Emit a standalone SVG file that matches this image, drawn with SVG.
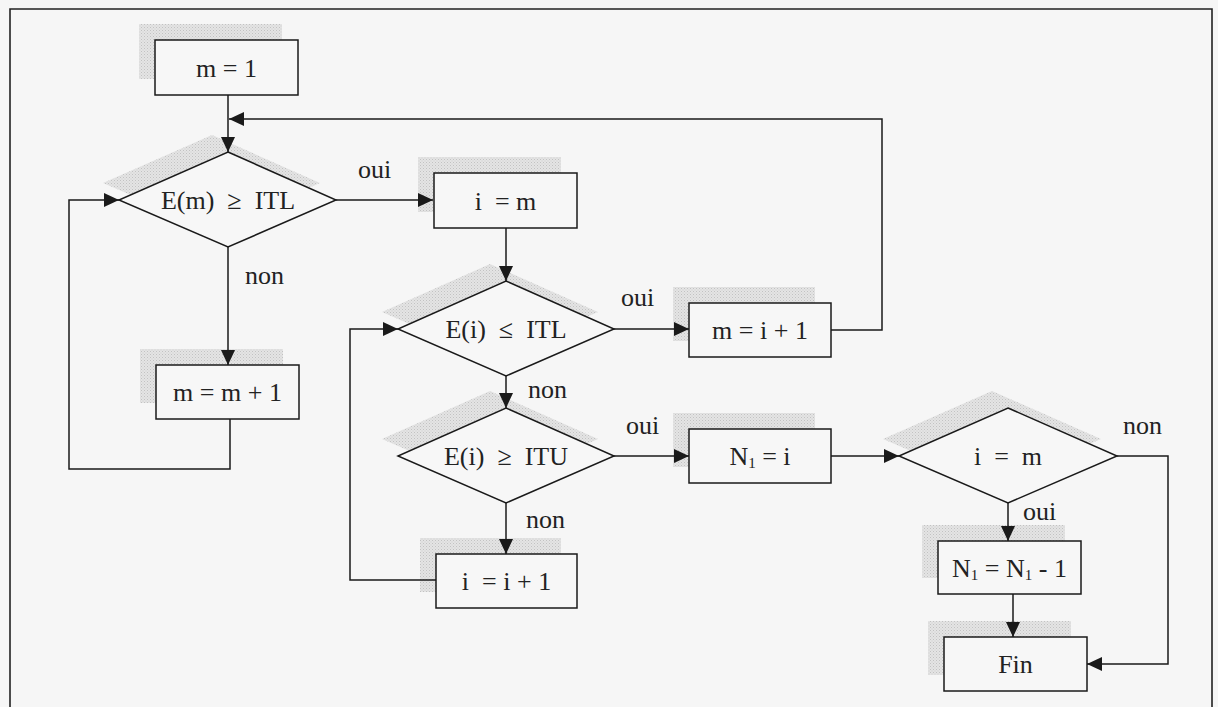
<svg xmlns="http://www.w3.org/2000/svg" width="1218" height="707" viewBox="0 0 1218 707">
<defs>
<pattern id="dots" width="3" height="3" patternUnits="userSpaceOnUse">
<rect width="3" height="3" fill="#e4e4e4"/>
<rect width="1" height="1" fill="#c2c2c2"/>
<rect x="1.5" y="1.5" width="1" height="1" fill="#cdcdcd"/>
</pattern>
<marker id="arr" markerUnits="userSpaceOnUse" markerWidth="16" markerHeight="14" refX="15" refY="7" orient="auto">
<path d="M0,0 L15,7 L0,14 Z" fill="#1a1a1a"/>
</marker>
<style>
.bg{fill:#f6f6f6}
.frame{fill:none;stroke:#222;stroke-width:1.6}
.shadow{fill:url(#dots)}
.shape{fill:#f7f7f7;stroke:#1a1a1a;stroke-width:1.5}
.conn{fill:none;stroke:#1a1a1a;stroke-width:1.5}
.arrow{marker-end:url(#arr)}
text{font-family:"Liberation Serif","Times New Roman",serif;font-size:26px;fill:#222;white-space:pre}
.c{text-anchor:middle}
</style>
</defs>
<rect class="bg" x="0" y="0" width="1218" height="707"/>
<path class="frame" d="M10,720 V9 H1212 V720"/>

<g id="n_m1">
<rect class="shadow" x="139" y="24" width="143" height="55"/>
<rect class="shape" x="155" y="40" width="143" height="55"/>
<text class="c" x="226.5" y="77">m = 1</text>
</g>

<g id="d_em">
<polygon class="shadow" points="212,135 320,183 212,230 103,183"/>
<polygon class="shape" points="228,152 336,200 228,247 119,200"/>
<text class="c" x="228" y="209">E(m)  ≥  ITL</text>
</g>

<g id="n_im">
<rect class="shadow" x="418" y="157" width="143" height="55"/>
<rect class="shape" x="434" y="173" width="143" height="55"/>
<text class="c" x="505.5" y="210">i  = m</text>
</g>

<g id="n_mm1">
<rect class="shadow" x="140" y="349" width="143" height="54"/>
<rect class="shape" x="156" y="365" width="143" height="54"/>
<text class="c" x="227.5" y="401">m = m + 1</text>
</g>

<g id="d_eitl">
<polygon class="shadow" points="490,264 598,312 490,359 382,312"/>
<polygon class="shape" points="506,281 614,329 506,376 398,329"/>
<text class="c" x="506" y="338">E(i)  ≤  ITL</text>
</g>

<g id="n_mi1">
<rect class="shadow" x="673" y="287" width="142" height="54"/>
<rect class="shape" x="689" y="303" width="142" height="54"/>
<text class="c" x="760" y="339">m = i + 1</text>
</g>

<g id="d_eitu">
<polygon class="shadow" points="490,391 598,439 490,486 382,439"/>
<polygon class="shape" points="506,408 614,456 506,503 398,456"/>
<text class="c" x="506" y="465">E(i)  ≥  ITU</text>
</g>

<g id="n_n1">
<rect class="shadow" x="673" y="413" width="142" height="54"/>
<rect class="shape" x="689" y="429" width="142" height="54"/>
<text class="c" x="760" y="465">N<tspan font-size="15" dy="3">1</tspan><tspan dy="-3"> = i</tspan></text>
</g>

<g id="d_im">
<polygon class="shadow" points="992,391 1101,439 992,486 883,439"/>
<polygon class="shape" points="1008,408 1117,456 1008,503 899,456"/>
<text class="c" x="1008" y="465">i  =  m</text>
</g>

<g id="n_n1m1">
<rect class="shadow" x="922" y="525" width="143" height="53"/>
<rect class="shape" x="938" y="541" width="143" height="53"/>
<text class="c" x="1009.5" y="577">N<tspan font-size="15" dy="3">1</tspan><tspan dy="-3"> = N</tspan><tspan font-size="15" dy="3">1</tspan><tspan dy="-3"> - 1</tspan></text>
</g>

<g id="n_fin">
<rect class="shadow" x="928" y="621" width="143" height="54"/>
<rect class="shape" x="944" y="637" width="143" height="54"/>
<text class="c" x="1015.5" y="673">Fin</text>
</g>

<g id="n_ii1">
<rect class="shadow" x="420" y="538" width="141" height="54"/>
<rect class="shape" x="436" y="554" width="141" height="54"/>
<text class="c" x="506.5" y="590">i  = i + 1</text>
</g>

<g id="connectors">
<path class="conn arrow" d="M228,95 V152"/>
<path class="conn arrow" d="M831,330 H882 V119 H229"/>
<path class="conn arrow" d="M336,200 H433"/>
<path class="conn arrow" d="M228,247 V365"/>
<path class="conn arrow" d="M230,419 V469 H69 V200 H119"/>
<path class="conn arrow" d="M506,228 V281"/>
<path class="conn arrow" d="M614,329 H689"/>
<path class="conn arrow" d="M506,376 V408"/>
<path class="conn arrow" d="M614,456 H689"/>
<path class="conn arrow" d="M506,503 V554"/>
<path class="conn arrow" d="M436,580 H350 V329 H398"/>
<path class="conn arrow" d="M831,456 H899"/>
<path class="conn arrow" d="M1008,503 V541"/>
<path class="conn arrow" d="M1013,594 V637"/>
<path class="conn arrow" d="M1117,456 H1168 V664 H1087"/>
<text x="358" y="178">oui</text>
<text x="245" y="284">non</text>
<text x="621" y="306">oui</text>
<text x="528" y="398">non</text>
<text x="626" y="434">oui</text>
<text x="526" y="528">non</text>
<text x="1123" y="434">non</text>
<text x="1023" y="520">oui</text>
</g>
</svg>
